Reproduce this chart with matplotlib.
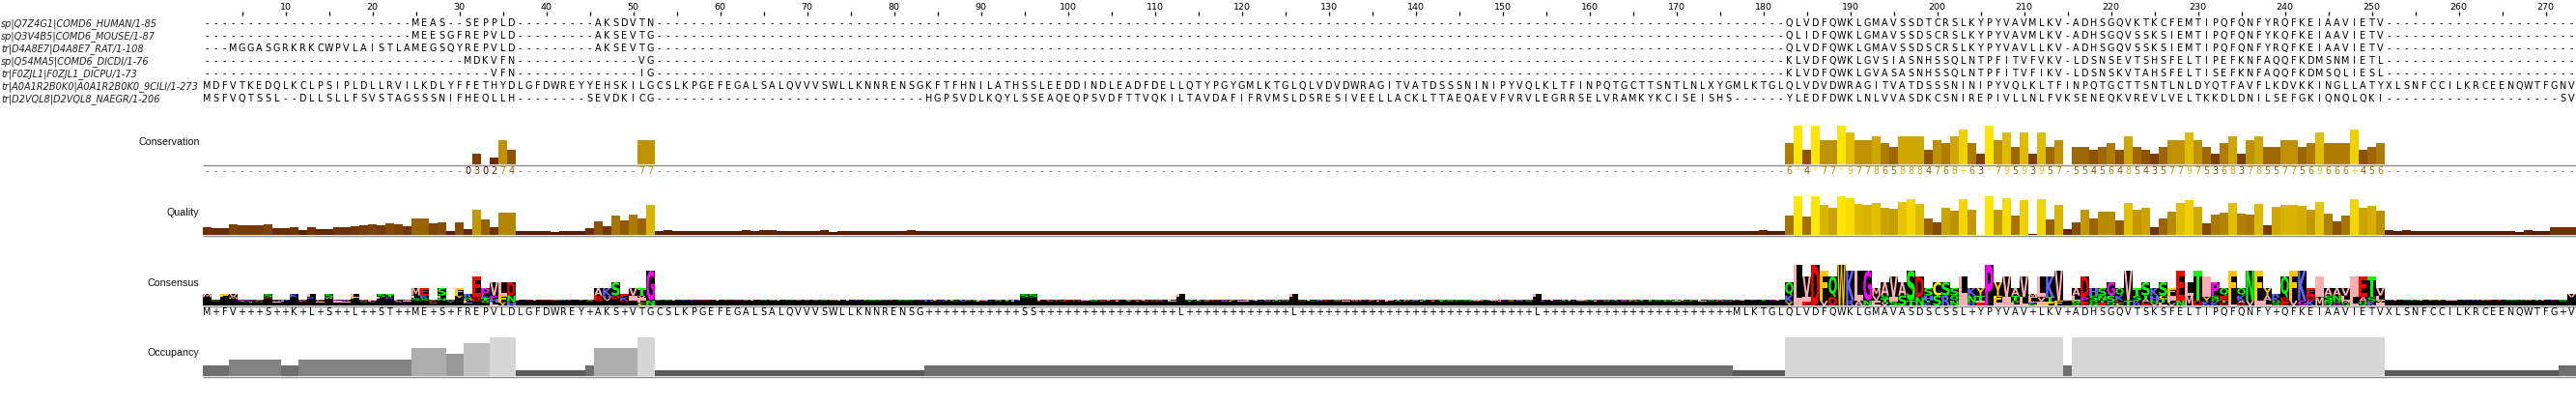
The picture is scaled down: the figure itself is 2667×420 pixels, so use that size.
import numpy as np
import matplotlib
matplotlib.use("Agg")
import matplotlib.pyplot as plt
from matplotlib.textpath import TextPath
from matplotlib.font_manager import FontProperties
from matplotlib.patches import PathPatch
from matplotlib.path import Path
from collections import Counter

# ---------------- data ----------------
seq_names = [
    "sp|Q7Z4G1|COMD6_HUMAN/1-85",
    "sp|Q3V4B5|COMD6_MOUSE/1-87",
    "tr|D4A8E7|D4A8E7_RAT/1-108",
    "sp|Q54MA5|COMD6_DICDI/1-76",
    "tr|F0ZJL1|F0ZJL1_DICPU/1-73",
    "tr|A0A1R2B0K0|A0A1R2B0K0_9CILI/1-273",
    "tr|D2VQL8|D2VQL8_NAEGR/1-206",
]

seq_human = ("-" * 24 + "MEAS--SEPPLD" + "-" * 9 + "AKSDVTN" + "-" * 130 +
             "QLVDFQWKLGMAVSSDTCRSLKYPYVAVMLKV" + "-" +
             "ADHSGQVKTKCFEMTIPQFQNFYRQFKEIAAVIETV" + "-" * 22)
seq_mouse = ("-" * 24 + "MEESGFREPVLD" + "-" * 9 + "AKSEVTG" + "-" * 130 +
             "QLIDFQWKLGMAVSSDSCRSLKYPYVAVMLKV" + "-" +
             "ADHSGQVSSKSIEMTIPQFQNFYKQFKEIAAVIETV" + "-" * 22)
seq_rat = ("---" + "MGGASGRKRKCWPVLAISTLAMEGSQYREPVLD" + "-" * 9 + "AKSEVTG" + "-" * 130 +
           "QLVDFQWKLGMAVSSDSCRSLKYPYVAVLLKV" + "-" +
           "ADHSGQVSSKSIEMTIPQFQNFYRQFKEIAAVIETV" + "-" * 22)
seq_dicdi = ("-" * 30 + "MDKVFN" + "-" * 14 + "VG" + "-" * 130 +
             "KLVDFQWKLGVSIASNHSSQLNTPFITVFVKV" + "-" +
             "LDSNSEVTSHSFELTIPEFKNFAQQFKDMSNMIETL" + "-" * 22)
seq_dicpu = ("-" * 33 + "VFN" + "-" * 14 + "IG" + "-" * 130 +
             "KLVDFQWKLGVASASNHSSQLNTPFITVFIKV" + "-" +
             "LDSNSKVTAHSFELTISEFKNFAQQFKDMSQLIESL" + "-" * 22)
seq_cili = ("MDFVTKEDQLKCLPSIPLDLLRVILKDLYFFETHYDLGFDWREYYEHSKILGCSLKPGEFEGALSALQVVV"
            "SWLLKNNRENSGKFTFHNILATHSSLEEDDINDLEADFDELLQTYPGYGMLKTGLQLVDVDWRAGITVAT"
            "DSSSNINIPYVQLKLTFINPQTGCTTSNTLNLXYGMLKTGLQLVDVDWRAGITVATDSSSNINIPYVQLKL"
            "TFINPQTGCTTSNTLNLDYQTFAVFLKDVKKINGLLATYXLSNFCCILKRCEENQWTFGNV")
seq_naegr = ("MSFVQTSSL" + "--" + "DLLSLLFSVSTAGSSSNIFHEQLLH" + "-" * 8 + "SEVDKICG" + "-" * 31 +
             "HGPSVDLKQYLSSEAQEQPSVDFTTVQKILTAVDAFIFRVMSLDSRESIVEELLACKLT"
             "TAEQAEVFVRVLEGRRSELVRAMKYKCISEISHS" + "-" * 6 +
             "YLEDFDWKLNLVVASDKCSNIREPIVLLNLFVKSENEQKVREVLVELTKKDLDNILSEFGKIQNQLQKI" +
             "-" * 20 + "SV")

sequences = [seq_human, seq_mouse, seq_rat, seq_dicdi, seq_dicpu, seq_cili, seq_naegr]

conservation = ("-" * 30 + "030274" + "-" * 14 + "77" + "-" * 130 +
                "6*4*77*9778658884768+63*79593957" + "-" +
                "55456485435779753683785577569666+456" + "-" * 22)

quality = ([8.3, 7.3, 7.3, 11.3, 10.3, 10.3, 10.3, 11.3, 7.3, 7.3, 8.3, 5.3, 8.3, 6.3, 6.3,
            8.3, 8.3, 9.3, 10.3, 11.3, 10.3, 12.3, 11.3, 9.3, 17.3, 17.3, 12.3, 13.3, 4.3,
            13.3, 6.3, 26.3, 16.3, 8.3, 23.3, 23.3, 4.3, 4.3, 4.3, 4.3, 3.3, 4.3, 4.3, 4.3,
            7.3, 14.3, 9.3, 20.3, 15.3, 21.3, 17.3, 31.3] +
           [4.3, 5.3] + [4.3] * 8 + [5.3, 4.3, 5.3, 5.3] + [4.3] * 5 + [5.3, 3.3] + [4.3] * 8 + [5.3] +
           [4.3] * 94 +
           [4.3, 4.3, 4.3, 5.3, 4.3, 4.3] +
           [20.3, 40, 19.3, 40, 31.3, 28.3, 40, 38.3, 32.3, 31.3, 33.3, 28.3, 27.3, 34.3, 37.3,
            32.3, 17.3, 13.3, 28.3, 25.3, 37.3, 26.3, 0, 40, 26.3, 38.3, 20.3, 36.3, 1.3, 37.3,
            16.3, 31.3, 6.3, 13.3, 26.3, 17.3, 24.3, 24.3, 15.3, 33.3, 26.3, 28.3, 8.3, 17.3,
            24.3, 33.3, 36.3, 29.3, 12.3, 21.3, 23.3, 33.3, 22.3, 21.3, 32.3, 10.3, 29.3, 31.3,
            31.3, 30.3, 26.3, 34.3, 22.3, 14.3, 20.3, 37.3, 28.3, 30.3, 25.3] +
           [5.3, 4.3, 5.3] + [4.3] * 12 + [3.3, 5.3, 4.3, 4.3, 8.3, 8.3, 8.3])

ruler_ticks = list(range(10, 271, 10))
annot_labels = ["Conservation", "Quality", "Consensus", "Occupancy"]

# ---------------- layout ----------------
NCOL = 273
sequences = [(s + "-" * NCOL)[:NCOL] for s in sequences]
quality = (quality + [4.3] * NCOL)[:NCOL]
cols = np.arange(1, NCOL + 1)

W, H = 2667, 420
LEFT = 210
CW = 9.0
fig = plt.figure(figsize=(W / 100, H / 100), dpi=100)
ax = fig.add_axes([0, 0, 1, 1])
ax.set_xlim(0.5 - LEFT / CW, NCOL + 0.5)
ax.set_ylim(H, 0)
ax.axis("off")

SEQ_FONT = "DejaVu Sans"
seq_fs = 6.9
row_base = [27.3 + 12.95 * i for i in range(7)]


def grad(v):
    v = min(max(v, 0.0), 1.0)
    return (0.3 + 0.7 * v, 0.9 * v, 0.0)


# ruler
for t in ruler_ticks:
    ax.text(t, 10.0, str(t), ha="center", va="baseline", fontsize=6.8,
            family=SEQ_FONT, color="black")
ax.vlines(np.arange(5, NCOL + 1, 5), 12.3, 15.6, color="black", lw=0.9)

# sequence names (fit font size)
fig.canvas.draw()
renderer = fig.canvas.get_renderer()
NAME_FONT = "DejaVu Sans"
probe = ax.text(0, 0, seq_names[0], fontsize=10, family=NAME_FONT, style="italic")
w0 = probe.get_window_extent(renderer).width
probe.remove()
probe = ax.text(0, 0, seq_names[5], fontsize=10, family=NAME_FONT, style="italic")
w5 = probe.get_window_extent(renderer).width
probe.remove()
name_fs = min(10 * 166.0 / w0, 10 * 204.0 / w5)
x_name = 0.5 - LEFT / CW + 1.0 / CW
for i, nm in enumerate(seq_names):
    ax.text(x_name, row_base[i], nm, ha="left", va="baseline", fontsize=name_fs,
            family=NAME_FONT, style="italic", color="#222222")

# sequence letters
for i, s in enumerate(sequences):
    for c, ch in enumerate(s, start=1):
        ax.text(c, row_base[i], ch, ha="center", va="baseline", fontsize=seq_fs,
                family=SEQ_FONT, color="black")

# annotation labels (fit)
lab_y = [150.0, 223.0, 296.0, 368.0]
probe = ax.text(0, 0, "Conservation", fontsize=10, family="Liberation Sans")
wpx = probe.get_window_extent(renderer).width
probe.remove()
lab_fs = 10 * 63.0 / wpx
x_lab = 0.5 - LEFT / CW + 206.5 / CW
for lab, y in zip(annot_labels, lab_y):
    ax.text(x_lab, y, lab, ha="right", va="baseline", fontsize=lab_fs,
            family="Liberation Sans", color="#111111")

# ---- conservation ----
CONS_BASE = 170.0
cons_val = []
for ch in conservation:
    if ch == "*":
        cons_val.append(11)
    elif ch == "+":
        cons_val.append(10)
    elif ch.isdigit():
        cons_val.append(int(ch))
    else:
        cons_val.append(None)
for c, v in zip(cols, cons_val):
    if v is not None and v > 0:
        ax.bar(c, -v / 11 * 40, bottom=CONS_BASE, width=1.0, color=grad(v / 11), linewidth=0)
ax.hlines(CONS_BASE + 0.5, 0.5, NCOL + 0.5, color="#8c8c8c", lw=1.0)
for c, ch, v in zip(cols, conservation, cons_val):
    if v is None:
        ax.text(c, 180.0, "-", ha="center", va="baseline", fontsize=seq_fs,
                family=SEQ_FONT, color=(0.62, 0.38, 0.36))
    else:
        ax.text(c, 180.0, ch, ha="center", va="baseline", fontsize=seq_fs,
                family=SEQ_FONT, color=grad(v / 11))

# ---- quality ----
Q_BASE = 243.0
for c, q in zip(cols, quality):
    if q > 0:
        ax.bar(c, -q, bottom=Q_BASE, width=1.0, color=grad(q / 40), linewidth=0)
ax.hlines(Q_BASE + 0.5, 0.5, NCOL + 0.5, color="#8c8c8c", lw=1.0)

# ---- consensus (computed from the alignment) ----
C_BASE = 316.0
HMAX = 42.0
zappo = {}
for a in "ILVAM":
    zappo[a] = (1.0, 0.686, 0.686)
for a in "FWY":
    zappo[a] = (1.0, 0.784, 0.0)
for a in "KRH":
    zappo[a] = (0.392, 0.392, 1.0)
for a in "DE":
    zappo[a] = (1.0, 0.0, 0.0)
for a in "STNQ":
    zappo[a] = (0.0, 1.0, 0.0)
for a in "PG":
    zappo[a] = (1.0, 0.0, 1.0)
zappo["C"] = (1.0, 1.0, 0.0)
zappo["X"] = (0.6, 0.6, 0.6)

fp_logo = FontProperties(family="DejaVu Sans", weight="bold")
_gcache = {}


def glyph(ch):
    if ch not in _gcache:
        tp = TextPath((0, 0), ch, size=1, prop=fp_logo)
        ext = tp.get_extents()
        v = tp.vertices.copy()
        v[:, 0] = (v[:, 0] - ext.x0) / ext.width
        v[:, 1] = (v[:, 1] - ext.y0) / ext.height
        _gcache[ch] = (v, tp.codes)
    return _gcache[ch]


NSEQ = len(sequences)
consensus_chars = []
stack_h = []
stacks = []
for c in range(NCOL):
    res = [s[c] for s in sequences if s[c] != "-"]
    cnt = Counter(res)
    mx = max(cnt.values())
    tops = [a for a, n in cnt.items() if n == mx]
    consensus_chars.append(tops[0] if len(tops) == 1 else "+")
    stack_h.append(HMAX * mx / NSEQ)
    stacks.append(sorted(cnt.items(), key=lambda kv: -kv[1]))

ax.bar(cols, -np.array(stack_h), bottom=C_BASE, width=1.0, color="black", linewidth=0)
for c, sh, st in zip(cols, stack_h, stacks):
    ytop = C_BASE - sh
    for a, n in st:
        h = sh * n / NSEQ
        if h < 0.4:
            continue
        v, codes = glyph(a)
        yb = ytop + h
        verts = np.column_stack([c - 0.47 + v[:, 0] * 0.94, yb - v[:, 1] * h])
        ax.add_patch(PathPatch(Path(verts, codes), facecolor=zappo.get(a, "gray"),
                               edgecolor="none", lw=0))
        ytop = yb
ax.hlines(C_BASE + 0.5, 0.5, NCOL + 0.5, color="#8c8c8c", lw=1.0)
for c, ch in zip(cols, consensus_chars):
    ax.text(c, 325.8, ch, ha="center", va="baseline", fontsize=seq_fs,
            family=SEQ_FONT, color="black")

# ---- occupancy ----
O_BASE = 389.0
occ = np.array([sum(1 for s in sequences if s[c] != "-") for c in range(NCOL)])
gray_levels = {1: 90, 2: 111, 3: 131, 4: 152, 5: 173, 6: 193, 7: 214}
for c, n in zip(cols, occ):
    if n > 0:
        g = gray_levels[int(n)] / 255
        ax.bar(c, -n / NSEQ * 40, bottom=O_BASE, width=1.0, color=(g, g, g), linewidth=0)
ax.hlines(O_BASE + 0.5, 0.5, NCOL + 0.5, color="#8c8c8c", lw=1.0)

fig.savefig("out.png", dpi=100)
